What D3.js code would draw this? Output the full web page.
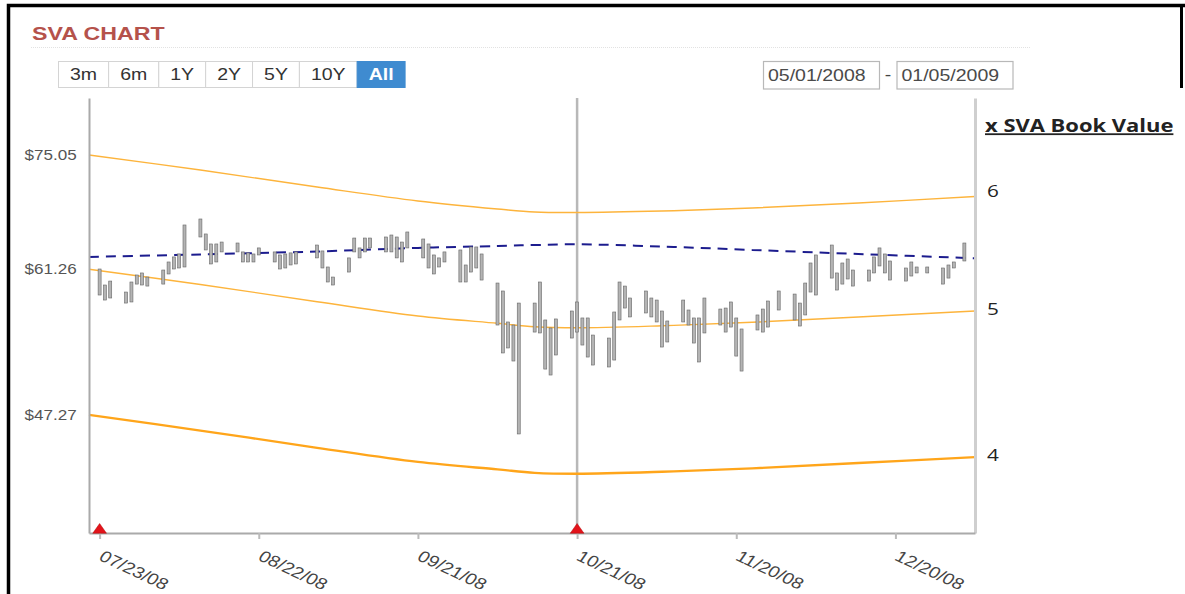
<!DOCTYPE html>
<html>
<head>
<meta charset="utf-8">
<script src="https://cdn.jsdelivr.net/npm/d3@7"></script>
<style>
  body { margin: 0; background: #fff; }
  svg { display: block; font-family: "Liberation Sans", Arial, sans-serif; }
</style>
</head>
<body>
<svg id="chart" width="1185" height="594"></svg>
<script>
// daily price bars (high / low)
const tradeDates = [
  "2008-07-23","2008-07-24","2008-07-25","2008-07-28","2008-07-29","2008-07-30","2008-07-31","2008-08-01",
  "2008-08-04","2008-08-05","2008-08-06","2008-08-07","2008-08-08","2008-08-11","2008-08-12","2008-08-13",
  "2008-08-14","2008-08-15","2008-08-18","2008-08-19","2008-08-20","2008-08-21","2008-08-22","2008-08-25",
  "2008-08-26","2008-08-27","2008-08-28","2008-08-29","2008-09-02","2008-09-03","2008-09-04","2008-09-05",
  "2008-09-08","2008-09-09","2008-09-10","2008-09-11","2008-09-12","2008-09-15","2008-09-16","2008-09-17",
  "2008-09-18","2008-09-19","2008-09-22","2008-09-23","2008-09-24","2008-09-25","2008-09-26","2008-09-29",
  "2008-09-30","2008-10-01","2008-10-02","2008-10-03","2008-10-06","2008-10-07","2008-10-08","2008-10-09",
  "2008-10-10","2008-10-13","2008-10-14","2008-10-15","2008-10-16","2008-10-17","2008-10-20","2008-10-21",
  "2008-10-22","2008-10-23","2008-10-24","2008-10-27","2008-10-28","2008-10-29","2008-10-30","2008-10-31",
  "2008-11-03","2008-11-04","2008-11-05","2008-11-06","2008-11-07","2008-11-10","2008-11-11","2008-11-12",
  "2008-11-13","2008-11-14","2008-11-17","2008-11-18","2008-11-19","2008-11-20","2008-11-21","2008-11-24",
  "2008-11-25","2008-11-26","2008-11-28","2008-12-01","2008-12-02","2008-12-03","2008-12-04","2008-12-05",
  "2008-12-08","2008-12-09","2008-12-10","2008-12-11","2008-12-12","2008-12-15","2008-12-16","2008-12-17",
  "2008-12-18","2008-12-19","2008-12-22","2008-12-23","2008-12-24","2008-12-26","2008-12-29","2008-12-30",
  "2008-12-31","2009-01-02"
];
const highs = [
  61.28,59.56,59.98,58.82,59.88,60.63,60.85,60.41, 61.17,62.05,62.61,62.94,66.27,66.98,65.22,64.07,
  64.07,64.29,64.18,63.17,63.06,62.94,63.62,63.17, 62.83,62.94,63.06,63.17,63.95,63.28,61.50,60.41,
  62.50,64.75,63.62,64.75,64.75,64.87,65.10,64.87, 64.29,65.45,64.64,64.07,62.83,62.50,63.17,63.39,
  61.72,63.73,63.73,62.94,59.77,58.93,55.77,55.47, 57.68,57.68,59.88,55.97,55.18,56.07,56.87,57.79,
  56.17,56.17,54.49,54.20,56.77,59.88,59.45,58.20, 58.93,58.20,57.99,56.87,55.87,57.99,56.97,56.17,
  56.17,58.20,57.07,57.17,57.79,56.17,55.08,56.47, 57.07,57.89,58.93,58.61,57.68,59.77,61.94,62.83,
  63.95,60.85,61.94,62.38,61.17,61.17,62.61,63.62, 62.94,62.16,61.39,62.05,61.50,61.50,61.39,61.72,
  62.05,64.18
];
const lows = [
  58.51,57.99,58.20,57.68,57.79,59.66,59.56,59.45, 59.66,60.74,61.28,61.39,61.50,64.87,63.39,61.83,
  62.05,63.17,63.17,62.05,62.05,62.05,62.83,62.05, 61.28,61.39,61.72,61.83,62.50,61.39,59.88,59.56,
  60.95,63.17,62.50,63.17,63.62,63.17,63.17,62.50, 62.05,63.62,62.50,61.39,60.74,61.50,62.05,59.88,
  59.88,60.95,61.39,60.09,55.47,52.78,53.25,52.03, 45.70,54.78,54.69,51.29,50.75,52.59,54.20,54.78,
  53.53,52.40,51.66,51.48,52.12,55.97,57.17,56.27, 56.67,56.27,55.77,53.34,53.82,55.77,55.47,53.72,
  51.94,54.69,55.47,54.78,55.27,52.49,51.11,54.98, 54.78,55.27,56.97,55.97,55.37,56.47,58.82,58.51,
  60.30,59.03,59.66,60.20,59.45,59.98,60.85,61.61, 60.85,60.09,59.98,60.52,60.85,60.85,59.66,60.30,
  61.39,62.16
];

// book value bands (price at 6x, 5x, 4x) and the dashed average line
const bandDates = ["2008-07-21","2008-08-11","2008-09-02","2008-09-21","2008-10-06","2008-10-13",
                   "2008-10-21","2008-11-06","2008-11-23","2008-12-13","2009-01-04"];
const band6 = [75.05,73.07,70.90,69.16,68.18,67.82,67.76,67.94,68.30,68.91,69.71];
const band5 = [61.26,59.61,57.82,56.37,55.64,55.30,55.20,55.40,55.74,56.27,56.87];
const band4 = [47.27,45.98,44.59,43.48,42.91,42.65,42.58,42.73,42.99,43.40,43.86];
const avgLine = [62.61,62.89,63.22,63.62,63.84,63.95,64.03,63.78,63.39,62.94,62.46];

const priceTicks = [75.05, 61.26, 47.27];
const multipleTicks = [6, 5, 4];
const dateTicks = ["2008-07-23","2008-08-22","2008-09-21","2008-10-21","2008-11-20","2008-12-20"];
const markerDates = ["2008-07-23", "2008-10-21"];
const dividerDate = "2008-10-21";
const rangeButtons = ["3m","6m","1Y","2Y","5Y","10Y","All"];
const rangeInputs = ["05/01/2008", "01/05/2009"];

const S = 1.22; // text in the reference is stretched horizontally
const parse = d3.timeParse("%Y-%m-%d");

const svg = d3.select("#chart");

// outer frame
svg.append("path")
  .attr("d", "M8.5,594V5.5H1185")
  .attr("fill", "none").attr("stroke", "#000").attr("stroke-width", 3.5);
svg.append("line")
  .attr("x1", 1181.5).attr("x2", 1181.5).attr("y1", 5).attr("y2", 88)
  .attr("stroke", "#000").attr("stroke-width", 3);

// title
svg.append("text")
  .attr("transform", `translate(32,40) scale(${S},1)`)
  .attr("fill", "#b5524b").style("font-size", "19px").style("font-weight", "bold")
  .text("SVA CHART");
svg.append("line")
  .attr("x1", 31).attr("x2", 1030).attr("y1", 47.5).attr("y2", 47.5)
  .attr("stroke", "#e2e2e2").attr("stroke-dasharray", "1,1");

// range buttons
const btnG = svg.append("g").attr("transform", "translate(58.5,61.5)");
let bx = 0;
rangeButtons.forEach(label => {
  const active = label === "All";
  const g = btnG.append("g").attr("transform", `translate(${bx},0)`);
  const rect = g.append("rect").attr("height", 26)
    .attr("fill", active ? "#3f8bd0" : "#fff")
    .attr("stroke", active ? "#3f8bd0" : "#d4d4d4");
  const t = g.append("text").text(label)
    .style("font-size", "16px").style("font-weight", active ? "bold" : "normal")
    .attr("fill", active ? "#fff" : "#333").attr("text-anchor", "middle");
  const w = t.node().getComputedTextLength() * S + 23;
  rect.attr("width", w);
  t.attr("transform", `translate(${w / 2},18.5) scale(${S},1)`);
  bx += w;
});

// date range inputs
const inputG = svg.append("g").attr("transform", "translate(763.5,61.5)");
rangeInputs.forEach((txt, i) => {
  const g = inputG.append("g").attr("transform", `translate(${i * 133.5},0)`);
  g.append("rect").attr("width", 116).attr("height", 27.5)
    .attr("fill", "#fff").attr("stroke", "#b8b8b8").attr("stroke-width", 1.2);
  g.append("text").text(txt)
    .attr("transform", `translate(4.5,19) scale(${S},1)`)
    .style("font-size", "16px").attr("fill", "#4a4a4a");
});
svg.append("text").text("-")
  .attr("transform", `translate(888,80) scale(${S},1)`).attr("text-anchor", "middle")
  .style("font-size", "16px").attr("fill", "#444");

// scales
const x = d3.scaleTime()
  .domain([parse("2008-07-21"), parse("2009-01-04")])
  .range([89, 975]);
const y = d3.scaleLog()
  .domain([38.32, 83.06])
  .range([533, 98]);
const ym = d3.scaleLog()
  .domain([3.546, 6.92])
  .range([533, 98]);

// divider line
svg.append("line")
  .attr("x1", x(parse(dividerDate))).attr("x2", x(parse(dividerDate)))
  .attr("y1", 98).attr("y2", 533)
  .attr("stroke", "#b8b8b8").attr("stroke-width", 2.5);

// bands
const bandLine = vals => d3.line()
  .x((d, i) => x(parse(bandDates[i])))
  .y(d => y(d))
  .curve(d3.curveCatmullRom.alpha(0.5))(vals);

svg.append("path").attr("d", bandLine(band6))
  .attr("fill", "none").attr("stroke", "#fdb43c").attr("stroke-width", 1.4);
svg.append("path").attr("d", bandLine(band5))
  .attr("fill", "none").attr("stroke", "#fdb43c").attr("stroke-width", 1.4);
svg.append("path").attr("d", bandLine(band4))
  .attr("fill", "none").attr("stroke", "#ffa51a").attr("stroke-width", 2.3);
svg.append("path").attr("d", bandLine(avgLine))
  .attr("fill", "none").attr("stroke", "#1c1c8e").attr("stroke-width", 2)
  .attr("stroke-dasharray", "10,7");

// price bars
svg.append("g").selectAll("rect")
  .data(tradeDates)
  .enter()
  .append("rect")
  .attr("x", d => x(parse(d)) - 1.5)
  .attr("width", 3)
  .attr("y", (d, i) => y(highs[i]))
  .attr("height", (d, i) => y(lows[i]) - y(highs[i]))
  .attr("fill", "#b4b4b4")
  .attr("stroke", "#666")
  .attr("stroke-width", 0.6);

// left axis
const gy = svg.append("g").attr("transform", "translate(89,0)")
  .call(d3.axisLeft(y).tickValues(priceTicks).tickSize(0).tickPadding(10)
    .tickFormat(d => "$" + d.toFixed(2)).tickSizeOuter(0));
gy.attr("font-family", null).attr("font-size", null);
gy.select(".domain").attr("stroke", "#aaa").attr("stroke-width", 2);
gy.selectAll(".tick text")
  .attr("transform", `scale(${S},1)`)
  .style("font-size", "14px").attr("fill", "#555");

// right axis (book value multiples)
const gr = svg.append("g").attr("transform", "translate(975,0)")
  .call(d3.axisRight(ym).tickValues(multipleTicks).tickSize(0).tickPadding(0).tickSizeOuter(0));
gr.attr("font-family", null).attr("font-size", null);
gr.select(".domain").attr("stroke", "#cfcfcf").attr("stroke-width", 3);
gr.selectAll(".tick text")
  .attr("x", 0)
  .attr("transform", `translate(12,0) scale(${S},1)`)
  .style("font-family", "'Open Sans', sans-serif")
  .style("font-size", "17px").attr("fill", "#222");

svg.append("text").text("x SVA Book Value")
  .attr("transform", `translate(985,131.5) scale(${S},1)`)
  .style("font-family", "'Open Sans', sans-serif").style("font-weight", "700")
  .style("font-size", "18px").style("text-decoration", "underline")
  .attr("fill", "#222");

// bottom axis
const gx = svg.append("g").attr("transform", "translate(0,533)")
  .call(d3.axisBottom(x).tickValues(dateTicks.map(parse))
    .tickFormat(d3.timeFormat("%m/%d/%y")).tickSize(6).tickSizeOuter(0));
gx.attr("font-family", null).attr("font-size", null);
gx.select(".domain").attr("stroke", "#aaa").attr("stroke-width", 2);
gx.selectAll(".tick line").attr("stroke", "#bbb").attr("stroke-width", 2);
gx.selectAll(".tick text")
  .attr("x", 0).attr("y", 0).attr("dy", "0.75em")
  .attr("text-anchor", "start")
  .attr("transform", `translate(5,16) scale(${S},1) rotate(30)`)
  .style("font-size", "16px").attr("fill", "#444");

// event markers
svg.append("g").selectAll("path")
  .data(markerDates)
  .enter()
  .append("path")
  .attr("d", d3.symbol().type(d3.symbolTriangle).size(55))
  .attr("transform", d => `translate(${x(parse(d))},530) scale(${S},1)`)
  .attr("fill", "#e3141b")
  .attr("stroke", "#a00")
  .attr("stroke-width", 0.4);
</script>
</body>
</html>
